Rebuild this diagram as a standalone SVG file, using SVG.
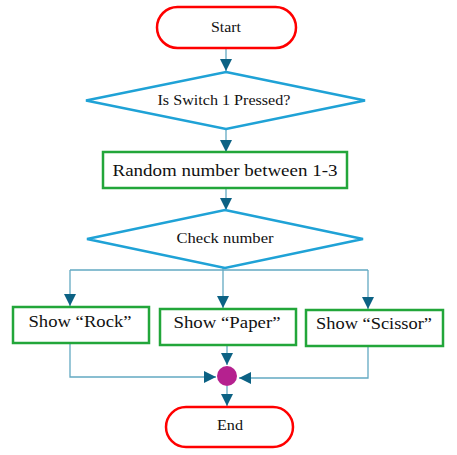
<svg xmlns="http://www.w3.org/2000/svg" width="457" height="455" viewBox="0 0 457 455">
<style>
.term{fill:#fff;stroke:#FF0000;stroke-width:2.5}
.dec{fill:#fff;stroke:#1FA2D6;stroke-width:2.5}
.proc{fill:#fff;stroke:#22A63A;stroke-width:2.5}
.con{fill:none;stroke:#63A9C2;stroke-width:1.3}
text{font-family:"Liberation Serif","DejaVu Serif",serif;fill:#111;text-anchor:middle;dominant-baseline:central}
.s{font-size:14px}
.l{font-size:17px}
</style>
<defs>
<marker id="ah" viewBox="0 0 12 12" refX="12" refY="6" markerWidth="12" markerHeight="12" markerUnits="userSpaceOnUse" orient="auto">
<path d="M0,0 L12,6 L0,12 z" fill="#0C6284"/>
</marker>
</defs>
<rect width="457" height="455" fill="#fff"/>
<g id="connectors">
<path class="con" d="M226,48 V71" marker-end="url(#ah)"/>
<path class="con" d="M226,129 V152" marker-end="url(#ah)"/>
<path class="con" d="M226,188 V210" marker-end="url(#ah)"/>
<path class="con" d="M223,268 V270 M70,270 H368"/>
<path class="con" d="M70,270 V306" marker-end="url(#ah)"/>
<path class="con" d="M223,270 V308" marker-end="url(#ah)"/>
<path class="con" d="M368,270 V309" marker-end="url(#ah)"/>
<path class="con" d="M70,343 V377 H216" marker-end="url(#ah)"/>
<path class="con" d="M227,345 V365" marker-end="url(#ah)"/>
<path class="con" d="M368,346 V378 H239" marker-end="url(#ah)"/>
<path class="con" d="M227,386 V406" marker-end="url(#ah)"/>
</g>
<g id="start">
<rect class="term" x="157" y="7" width="139" height="41" rx="20.5"/>
<text class="s" x="226" y="27" textLength="30" lengthAdjust="spacingAndGlyphs">Start</text>
</g>
<g id="switch">
<polygon class="dec" points="226,72 365,100.5 226,129 86,100.5"/>
<text class="s" x="224" y="100" textLength="133" lengthAdjust="spacingAndGlyphs">Is Switch 1 Pressed?</text>
</g>
<g id="random">
<rect class="proc" x="103" y="152" width="244" height="36"/>
<text class="l" x="225" y="170" textLength="225" lengthAdjust="spacingAndGlyphs">Random number between 1-3</text>
</g>
<g id="check">
<polygon class="dec" points="225,210 363,239 225,268 87,239"/>
<text class="s" x="225" y="238" textLength="97" lengthAdjust="spacingAndGlyphs">Check number</text>
</g>
<g id="rock">
<rect class="proc" x="13" y="307" width="136" height="36"/>
<text class="l" x="80" y="321" textLength="103" lengthAdjust="spacingAndGlyphs">Show “Rock”</text>
</g>
<g id="paper">
<rect class="proc" x="160" y="309" width="136" height="36"/>
<text class="l" x="227" y="322" textLength="107" lengthAdjust="spacingAndGlyphs">Show “Paper”</text>
</g>
<g id="scissor">
<rect class="proc" x="306" y="310" width="137" height="36"/>
<text class="l" x="374" y="323" textLength="116" lengthAdjust="spacingAndGlyphs">Show “Scissor”</text>
</g>
<g id="join">
<circle cx="227" cy="376" r="10" fill="#B5218F"/>
</g>
<g id="end">
<rect class="term" x="166" y="407" width="127" height="40" rx="20"/>
<text class="s" x="230" y="425" textLength="26" lengthAdjust="spacingAndGlyphs">End</text>
</g>
</svg>
